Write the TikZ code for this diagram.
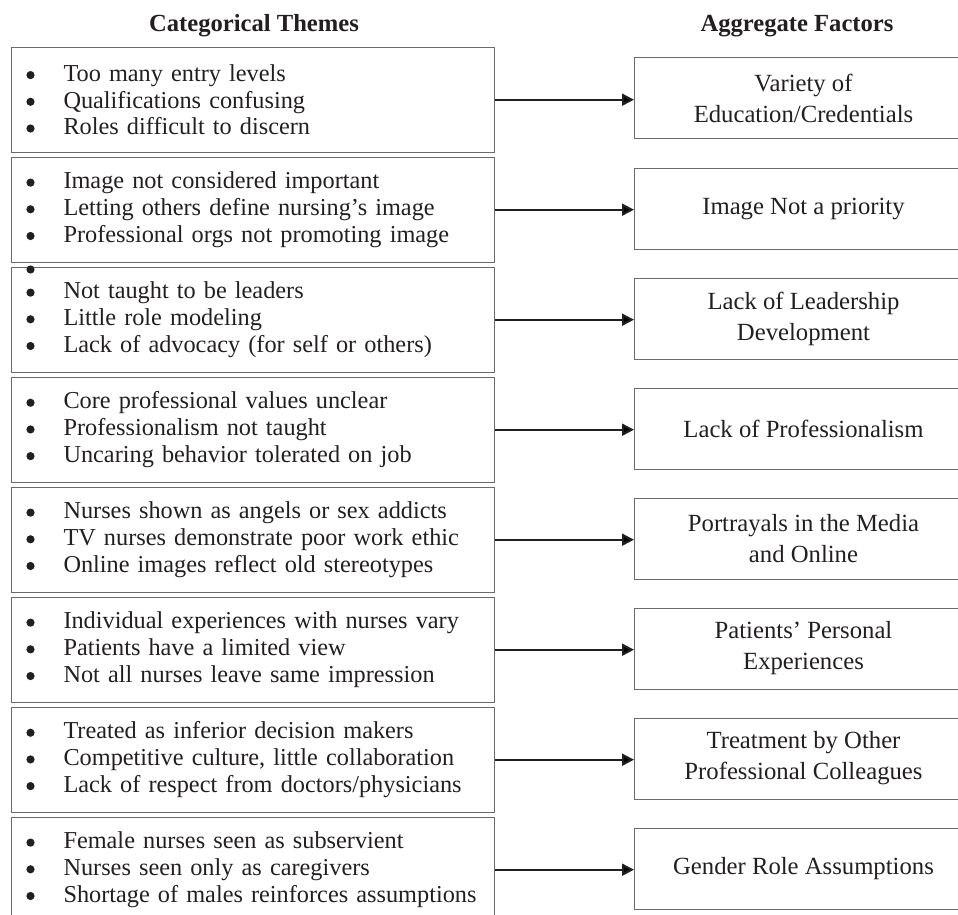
\documentclass[tikz,border=0pt]{standalone}
\usepackage{fontspec}
\setmainfont{Liberation Serif}
\usetikzlibrary{arrows.meta}
\definecolor{ink}{HTML}{231F20}
\definecolor{edge}{HTML}{6A6A6A}
\newcommand{\bul}{\tikz[baseline=0pt]\fill[ink] (0pt,6.2pt) circle[radius=4.1pt];}
\newcommand{\bitem}[1]{\makebox[38pt][c]{\bul}\hspace{14pt}#1}
\tikzset{
  theme/.style={draw=edge, line width=1pt, anchor=north west, minimum width=483pt,
    minimum height=105pt, text width=483pt, inner sep=0pt, align=left,
    font=\fontsize{24.3}{26.7}\selectfont, text=ink},
  factor/.style={draw=edge, line width=1pt, anchor=west, minimum width=338pt,
    minimum height=81pt, inner sep=0pt, align=center,
    font=\fontsize{24.7}{31}\selectfont, text=ink},
  link/.style={draw=ink, line width=2pt, -{Triangle[length=12pt,width=12pt]}},
  header/.style={font=\bfseries\fontsize{24.6}{26}\selectfont, anchor=base, text=ink}
}
\begin{document}
\begin{tikzpicture}[x=1pt,y=-1pt]
\useasboundingbox (0,0) rectangle (958,915);
\clip (0,0) rectangle (958,915);
\node[header] (h1) at (254,32) {Categorical Themes};
\node[header] (h2) at (797,32) {Aggregate Factors};

\node[theme] (t1) at (11,46.7) {\bitem{Too many entry levels}\\\bitem{Qualifications confusing}\\\bitem{Roles difficult to discern}};
\node[theme] (t2) at (11,156.7) {\bitem{Image not considered important}\\\bitem{Letting others define nursing’s image}\\\bitem{Professional orgs not promoting image}};
\node[theme] (t3) at (11,266.7) {\bitem{Not taught to be leaders}\\\bitem{Little role modeling}\\\bitem{Lack of advocacy (for self or others)}};
\fill[ink] (30.5,269.5) circle[radius=4.1pt];
\node[theme] (t4) at (11,376.7) {\bitem{Core professional values unclear}\\\bitem{Professionalism not taught}\\\bitem{Uncaring behavior tolerated on job}};
\node[theme] (t5) at (11,486.7) {\bitem{Nurses shown as angels or sex addicts}\\\bitem{TV nurses demonstrate poor work ethic}\\\bitem{Online images reflect old stereotypes}};
\node[theme] (t6) at (11,596.7) {\bitem{Individual experiences with nurses vary}\\\bitem{Patients have a limited view}\\\bitem{Not all nurses leave same impression}};
\node[theme] (t7) at (11,706.7) {\bitem{Treated as inferior decision makers}\\\bitem{Competitive culture, little collaboration}\\\bitem{Lack of respect from doctors/physicians}};
\node[theme] (t8) at (11,816.7) {\bitem{Female nurses seen as subservient}\\\bitem{Nurses seen only as caregivers}\\\bitem{Shortage of males reinforces assumptions}};

\node[factor] (f1) at (634,98.5) {Variety of\\Education/Credentials};
\node[factor] (f2) at (634,208.5) {Image Not a priority};
\node[factor] (f3) at (634,318.5) {Lack of Leadership\\Development};
\node[factor] (f4) at (634,428.5) {Lack of Professionalism};
\node[factor] (f5) at (634,538.5) {Portrayals in the Media\\and Online};
\node[factor] (f6) at (634,648.5) {Patients’ Personal\\Experiences};
\node[factor] (f7) at (634,758.5) {Treatment by Other\\Professional Colleagues};
\node[factor] (f8) at (634,868.5) {Gender Role Assumptions};

\foreach \i in {1,...,8}{
  \draw[link] (t\i.east) -- (t\i.east -| f\i.west);
}
\end{tikzpicture}
\end{document}
